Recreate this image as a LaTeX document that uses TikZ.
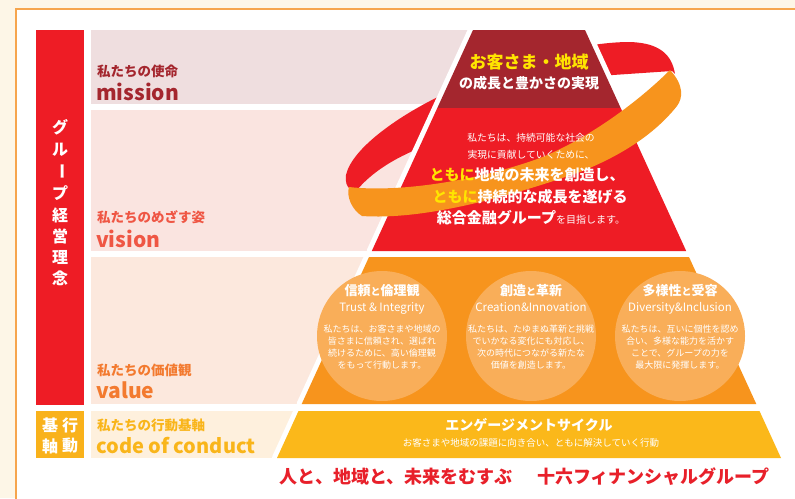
\documentclass[tikz,border=0pt]{standalone}
\usepackage{fontspec}
\setmainfont{Noto Sans CJK JP}
\newcommand\fsz[1]{\fontsize{#1}{#1}\selectfont}
\definecolor{cream}{HTML}{FDF6E7}
\definecolor{frameor}{HTML}{F6A54D}
\definecolor{barred}{HTML}{EE1C25}
\definecolor{goldbox}{HTML}{F9B21B}
\definecolor{missionbg}{HTML}{EFDEDF}
\definecolor{visionbg}{HTML}{FAE4E0}
\definecolor{valuebg}{HTML}{FCE8DD}
\definecolor{codebg}{HTML}{FEF0DD}
\definecolor{darkred}{HTML}{A4262E}
\definecolor{pyred}{HTML}{EE1C25}
\definecolor{pyorange}{HTML}{F7941D}
\definecolor{circor}{HTML}{F9AE59}
\definecolor{pygold}{HTML}{FBB81A}
\definecolor{hiyellow}{HTML}{FFE500}
\definecolor{txvision}{HTML}{EF5644}
\definecolor{txvalue}{HTML}{F37A2F}
\definecolor{txcode}{HTML}{F9B51A}
\definecolor{tagred}{HTML}{E8202A}
\tikzset{
  lbl/.style={anchor=base west, inner sep=0pt, font=\bfseries\fsz{13.5}},
  big/.style={anchor=base west, inner sep=0pt, font=\bfseries\fsz{21}},
  ctr/.style={anchor=base, inner sep=0pt, text=white},
  halo/.style={draw=white, line width=10pt, line join=round},
  vch/.style={anchor=center, inner sep=0pt, text=white, font=\bfseries\fsz{16}},
  circ/.style={fill=circor},
}
\begin{document}
\begin{tikzpicture}[x=1pt,y=-1pt]
\useasboundingbox (0,0) rectangle (795,498);
\fill[cream] (0,0) rectangle (795,498);
\filldraw[fill=white, draw=frameor, line width=1.2pt] (16,9) rectangle (810,515);
% left column
\fill[barred] (36,30) rectangle (84,405);
\fill[goldbox] (36,411) rectangle (84,458);
\foreach \c/\yy in {グ/127,ル/150,プ/193,経/215,営/236,理/257,念/278}
  \node[vch] at (60,\yy) {\c};
\node[vch, rotate=-90] (bar) at (60,171) {ー};
\node[vch] (k1) at (50,425) {基};
\node[vch] (k2) at (70,425) {行};
\node[vch] (k3) at (50,446) {軸};
\node[vch] (k4) at (70,446) {動};
% bands
\fill[missionbg] (91,30) rectangle (500,104);
\fill[visionbg] (91,110) rectangle (500,251);
\fill[valuebg] (91,257) rectangle (500,404);
\fill[codebg] (91,411) rectangle (500,458);
\node[lbl, text=darkred] (l1) at (97,76) {私たちの使命};
\node[big, text=darkred] (b1) at (96,100) {mission};
\node[lbl, text=txvision] (l2) at (97,222) {私たちのめざす姿};
\node[big, text=txvision] (b2) at (96,247) {vision};
\node[lbl, text=txvalue] (l3) at (97,375) {私たちの価値観};
\node[big, text=txvalue] (b3) at (96,398) {value};
\node[lbl, text=txcode] (l4) at (97,430) {私たちの行動基軸};
\node[big, text=txcode, font=\bfseries\fsz{20}] (b4) at (96,453) {code of conduct};
% red ribbon (behind pyramid)
\fill[pyred] (675,74) .. controls (672,55) and (660,43) .. (630,42)
  .. controls (560,42) and (470,80) .. (442,95)
  .. controls (400,115) and (352,148) .. (346,175)
  .. controls (345,182) and (347,187) .. (350,189) -- (357,190)
  .. controls (372,172) and (395,158) .. (420,148)
  .. controls (500,100) and (580,75) .. (613,75) -- (672,71) -- cycle;
% pyramid halos
\draw[halo] (473,30)--(585,30)--(686.2,251)--(371.8,251)--cycle;
\draw[halo] (369,257)--(689,257)--(756.3,404)--(301.7,404)--cycle;
\draw[halo] (298.5,411)--(759.5,411)--(781,458)--(277,458)--cycle;
% pyramid
\fill[darkred] (473,30)--(585,30)--(620.7,108)--(437.3,108)--cycle;
\fill[pyred] (437.3,108)--(620.7,108)--(686.2,251)--(371.8,251)--cycle;
\fill[pyorange] (369,257)--(689,257)--(756.3,404)--(301.7,404)--cycle;
\fill[pygold] (298.5,411)--(759.5,411)--(781,458)--(277,458)--cycle;
% circles
\fill[circ] (382,336) circle (65);
\fill[circ] (531,336) circle (65);
\fill[circ] (680,336) circle (65);
% orange ribbon (over pyramid)
\fill[pyorange] (349,187) .. controls (400,193) and (480,180) .. (540,158)
  .. controls (590,138) and (640,100) .. (670,70)
  .. controls (684,85) and (683,98) .. (677,106)
  .. controls (650,140) and (610,160) .. (580,172)
  .. controls (500,200) and (420,220) .. (362,216)
  .. controls (352,210) and (346,196) .. (349,187) -- cycle;
% pyramid texts
\node[ctr, text=hiyellow, font=\bfseries\fsz{17}] (m1) at (529,68.5) {お客さま・地域};
\node[ctr, font=\bfseries\fsz{14}] (m2) at (529,88.3) {の成長と豊かさの実現};
\node[ctr, font=\fsz{9.8}] (v1) at (531,141.7) {私たちは、持続可能な社会の};
\node[ctr, font=\fsz{9.8}] (v2) at (531,158.7) {実現に貢献していくために、};
\node[ctr, font=\bfseries\fsz{15}] (v3) at (527,180.7) {\textcolor{hiyellow}{ともに}地域の未来を創造し、};
\node[ctr, font=\bfseries\fsz{15}] (v4) at (530,202.7) {\textcolor{hiyellow}{ともに}持続的な成長を遂げる};
\node[ctr, font=\bfseries\fsz{15}] (v5) at (531,223.7) {総合金融グループ{\mdseries\fsz{10}を目指します。}};
% circle texts
\foreach \cx/\ta/\tb/\sub/\la/\lb/\lc/\ld in {
  382/信頼/倫理観/Trust \& Integrity/私たちは、お客さまや地域の/皆さまに信頼され、選ばれ/続けるために、高い倫理観/をもって行動します。,
  531/創造/革新/Creation\&Innovation/私たちは、たゆまぬ革新と挑戦/でいかなる変化にも対応し、/次の時代につながる新たな/価値を創造します。,
  680/多様性/受容/Diversity\&Inclusion/私たちは、互いに個性を認め/合い、多様な能力を活かす/ことで、グループの力を/最大限に発揮します。}{
  \node[ctr, font=\bfseries\fsz{13}] at (\cx,295) {\ta{\fsz{10}と}\tb};
  \node[ctr, font=\fsz{11.5}] at (\cx,311) {\sub};
  \node[ctr, font=\fsz{9}] at (\cx,332.4) {\la};
  \node[ctr, font=\fsz{9}] at (\cx,344.4) {\lb};
  \node[ctr, font=\fsz{9}] at (\cx,356.4) {\lc};
  \node[ctr, font=\fsz{9}] at (\cx,368.4) {\ld};
}
% code of conduct bar text
\node[ctr, font=\bfseries\fsz{14}] (e1) at (529,430.3) {エンゲージメントサイクル};
\node[ctr, font=\fsz{9.5}] (e2) at (531,446.6) {お客さまや地域の課題に向き合い、ともに解決していく行動};
% tagline
\node[ctr, text=tagred, font=\bfseries\fsz{18}] (t1) at (396,483.8) {人と、地域と、未来をむすぶ};
\node[ctr, text=tagred, font=\bfseries\fsz{18}] (t2) at (653.5,483.8) {十六フィナンシャルグループ};
\end{tikzpicture}
\end{document}
